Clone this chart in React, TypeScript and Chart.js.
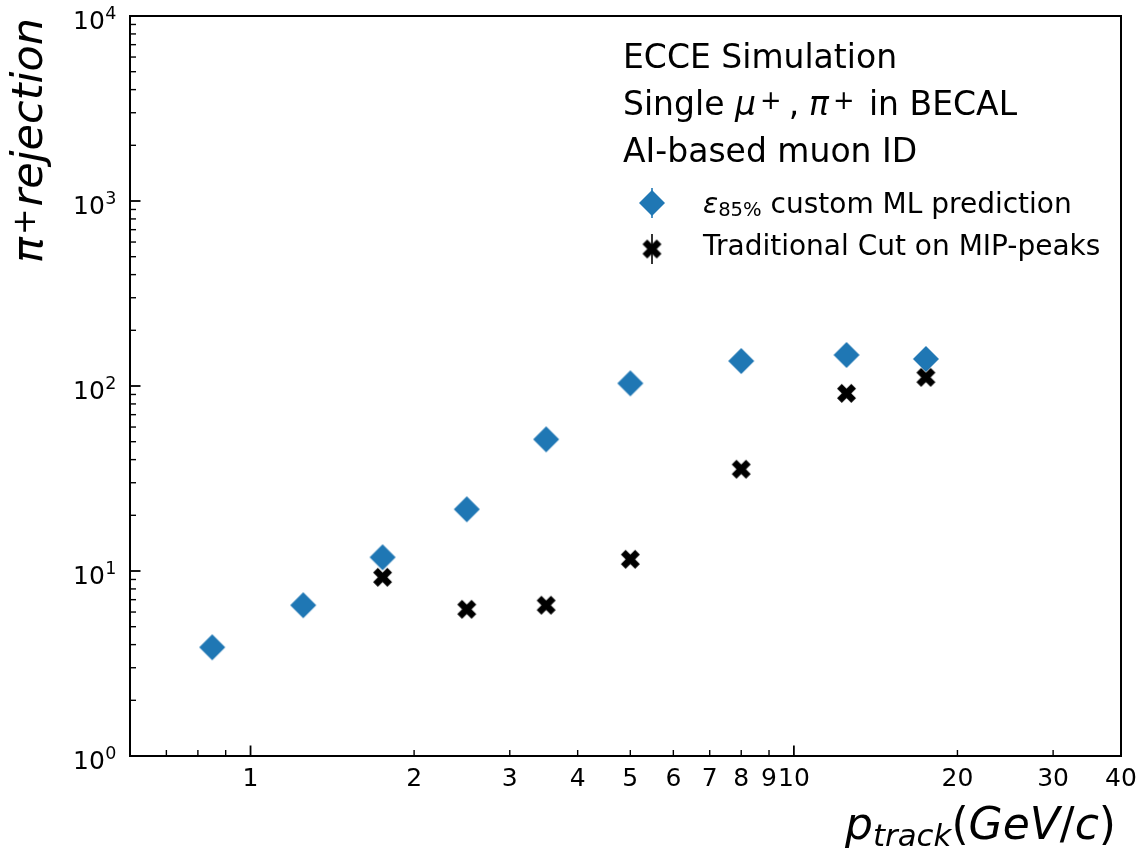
import { useEffect, useRef } from 'react';
import { Chart, registerables } from 'chart.js';

Chart.register(...registerables);

// Track momentum bin centres (GeV/c) and pion rejection factors
const mlMomentum = [0.85, 1.25, 1.75, 2.5, 3.5, 5, 8, 12.5, 17.5];
const mlRejection = [3.87, 6.53, 11.86, 21.55, 51.5, 103.4, 136.5, 147.1, 140];
const cutMomentum = [1.75, 2.5, 3.5, 5, 8, 12.5, 17.5];
const cutRejection = [9.25, 6.21, 6.53, 11.57, 35.5, 91.3, 111.4];

// Axis ticks
const xRange = [0.6, 40];
const yRange = [1, 10000];
const xMajorTicks = [1, 10];
const xMinorTicks = [0.7, 0.8, 0.9, 2, 3, 4, 5, 6, 7, 8, 9, 20, 30];
const xTickLabels = ['1', '2', '3', '4', '5', '6', '7', '8', '9', '10', '20', '30', '40'];
const yDecadeExponents = ['0', '1', '2', '3', '4'];
const yMinorSteps = [2, 3, 4, 5, 6, 7, 8, 9];

const infoLines = ['ECCE Simulation', 'Single', 'AI-based muon ID'];
const legendLabels = ['custom ML prediction', 'Traditional Cut on MIP-peaks'];

const BLUE = '#1f77b4';
const FAMILY = "'DejaVu Sans', sans-serif";

// A run of text: plain, italic, scaled (sub/superscript) or a blank gap in em
type Run = { t?: string; italic?: boolean; scale?: number; dy?: number; gap?: number };

function runFont(r: Run, size: number) {
  return `${r.italic ? 'italic ' : ''}${size * (r.scale ?? 1)}px ${FAMILY}`;
}

function runWidth(ctx: CanvasRenderingContext2D, r: Run, size: number) {
  if (r.gap !== undefined) return r.gap * size;
  ctx.font = runFont(r, size);
  return ctx.measureText(r.t ?? '').width;
}

function measureRuns(ctx: CanvasRenderingContext2D, runs: Run[], size: number) {
  return runs.reduce((w, r) => w + runWidth(ctx, r, size), 0);
}

function drawRuns(ctx: CanvasRenderingContext2D, runs: Run[], x: number, y: number, size: number) {
  ctx.textAlign = 'left';
  ctx.textBaseline = 'alphabetic';
  let cx = x;
  for (const r of runs) {
    const w = runWidth(ctx, r, size);
    if (r.t) {
      ctx.font = runFont(r, size);
      ctx.fillText(r.t, cx, y + (r.dy ?? 0) * size);
    }
    cx += w;
  }
}

function makeDiamond(half: number) {
  const c = document.createElement('canvas');
  const s = Math.ceil(half * 2 + 2);
  c.width = s;
  c.height = s;
  const g = c.getContext('2d')!;
  const m = s / 2;
  g.fillStyle = BLUE;
  g.beginPath();
  g.moveTo(m, m - half);
  g.lineTo(m + half, m);
  g.lineTo(m, m + half);
  g.lineTo(m - half, m);
  g.closePath();
  g.fill();
  return c;
}

function makeFilledX(half: number) {
  const c = document.createElement('canvas');
  const s = Math.ceil(half * 2 + 2);
  c.width = s;
  c.height = s;
  const g = c.getContext('2d')!;
  const m = s / 2;
  const plus = [[-1, -3], [1, -3], [1, -1], [3, -1], [3, 1], [1, 1], [1, 3], [-1, 3], [-1, 1], [-3, 1], [-3, -1], [-1, -1]];
  const u = half / (4 / Math.SQRT2);
  const k = Math.SQRT1_2;
  g.fillStyle = '#000';
  g.beginPath();
  plus.forEach(([px, py], i) => {
    const rx = (px - py) * k * u + m;
    const ry = (px + py) * k * u + m;
    if (i === 0) g.moveTo(rx, ry);
    else g.lineTo(rx, ry);
  });
  g.closePath();
  g.fill();
  return c;
}

export default function App() {
  const canvasRef = useRef<HTMLCanvasElement | null>(null);

  useEffect(() => {
    const canvas = canvasRef.current;
    if (!canvas) return;
    const diamond = makeDiamond(13);
    const cross = makeFilledX(9.5);

    const axesPlugin = {
      id: 'mplAxes',
      afterDraw(chart: Chart) {
        const ctx = chart.ctx;
        const a = chart.chartArea;
        const xs = chart.scales.x;
        const ys = chart.scales.y;
        ctx.save();
        ctx.fillStyle = '#000';
        ctx.strokeStyle = '#000';

        // frame
        ctx.lineWidth = 2;
        ctx.strokeRect(a.left, a.top, a.right - a.left, a.bottom - a.top);

        // inward ticks
        const tick = (x1: number, y1: number, x2: number, y2: number, w: number) => {
          ctx.lineWidth = w;
          ctx.beginPath();
          ctx.moveTo(x1, y1);
          ctx.lineTo(x2, y2);
          ctx.stroke();
        };
        xMajorTicks.forEach((v) => {
          const px = xs.getPixelForValue(v);
          tick(px, a.bottom, px, a.bottom - 10.5, 1.8);
        });
        xMinorTicks.forEach((v) => {
          const px = xs.getPixelForValue(v);
          tick(px, a.bottom, px, a.bottom - 6, 1.4);
        });
        yDecadeExponents.forEach((e) => {
          const base = Math.pow(10, Number(e));
          const py = ys.getPixelForValue(base);
          tick(a.left, py, a.left + 10.5, py, 1.8);
          if (Number(e) < 4) {
            yMinorSteps.forEach((m) => {
              const pm = ys.getPixelForValue(base * m);
              tick(a.left, pm, a.left + 6, pm, 1.4);
            });
          }
        });

        // x tick labels
        ctx.font = `25px ${FAMILY}`;
        ctx.textAlign = 'center';
        ctx.textBaseline = 'alphabetic';
        xTickLabels.forEach((t) => {
          ctx.fillText(t, xs.getPixelForValue(Number(t)), a.bottom + 30);
        });

        // y tick labels as powers of ten
        const labelRight = a.left - 13.5;
        yDecadeExponents.forEach((e) => {
          const py = ys.getPixelForValue(Math.pow(10, Number(e)));
          ctx.textAlign = 'left';
          ctx.font = `17.5px ${FAMILY}`;
          const ew = ctx.measureText(e).width;
          ctx.fillText(e, labelRight - ew, py + 3);
          ctx.font = `25px ${FAMILY}`;
          ctx.textAlign = 'right';
          ctx.fillText('10', labelRight - ew - 0.5, py + 13);
        });

        // x axis label, right aligned
        const xLabel: Run[] = [
          { t: 'p', italic: true },
          { t: 'track', italic: true, scale: 0.7, dy: 0.17 },
          { t: '(' },
          { t: 'GeV', italic: true },
          { t: '/' },
          { t: 'c', italic: true },
          { t: ')' },
        ];
        const xw = measureRuns(ctx, xLabel, 44);
        drawRuns(ctx, xLabel, a.right - 5 - xw, 839, 44);

        // y axis label, rotated, aligned to top
        const yLabel: Run[] = [
          { t: 'π', italic: true },
          { gap: 0.04 },
          { t: '+', scale: 0.75, dy: -0.17 },
          { gap: 0.04 },
          { t: 'rejection', italic: true },
        ];
        const yw = measureRuns(ctx, yLabel, 43);
        ctx.save();
        ctx.translate(42, a.top + 2);
        ctx.rotate(-Math.PI / 2);
        drawRuns(ctx, yLabel, -yw, 0, 43);
        ctx.restore();

        // annotation block
        const tx = 623;
        drawRuns(ctx, [{ t: infoLines[0] }], tx, 68, 33);
        drawRuns(
          ctx,
          [
            { t: infoLines[1] + ' ' },
            { t: 'μ', italic: true },
            { gap: 0.12 },
            { t: '+', scale: 0.78, dy: -0.17 },
            { gap: 0.22 },
            { t: ',' },
            { gap: 0.3 },
            { t: 'π', italic: true },
            { gap: 0.12 },
            { t: '+', scale: 0.78, dy: -0.17 },
            { gap: 0.12 },
            { t: ' in BECAL' },
          ],
          tx,
          115,
          33
        );
        drawRuns(ctx, [{ t: infoLines[2] }], tx, 162, 33);

        // legend
        const hx = 652;
        ctx.strokeStyle = BLUE;
        tick(hx, 188, hx, 218, 1.6);
        ctx.drawImage(diamond, hx - diamond.width / 2, 203 - diamond.height / 2);
        ctx.strokeStyle = '#000';
        tick(hx, 234, hx, 264, 1.6);
        ctx.drawImage(cross, hx - cross.width / 2, 249 - cross.height / 2);
        ctx.fillStyle = '#000';
        drawRuns(
          ctx,
          [
            { t: 'ε', italic: true },
            { t: '85%', scale: 0.7, dy: 0.13 },
            { t: ' ' + legendLabels[0] },
          ],
          703,
          212.5,
          28
        );
        drawRuns(ctx, [{ t: legendLabels[1] }], 703, 255, 28);

        ctx.restore();
      },
    };

    const chart = new Chart(canvas, {
      type: 'scatter',
      data: {
        datasets: [
          {
            label: legendLabels[1],
            data: cutMomentum.map((x, i) => ({ x, y: cutRejection[i] })),
            pointStyle: cross,
            pointRadius: 9,
            backgroundColor: '#000',
            borderColor: '#000',
          },
          {
            label: legendLabels[0],
            data: mlMomentum.map((x, i) => ({ x, y: mlRejection[i] })),
            pointStyle: diamond,
            pointRadius: 13,
            backgroundColor: BLUE,
            borderColor: BLUE,
          },
        ],
      },
      options: {
        responsive: false,
        animation: false,
        devicePixelRatio: 1,
        layout: { padding: { left: 130, top: 16, right: 17, bottom: 95 } },
        plugins: {
          legend: { display: false },
          tooltip: { enabled: false },
          title: { display: false },
        },
        scales: {
          x: { type: 'logarithmic', min: xRange[0], max: xRange[1], display: false },
          y: { type: 'logarithmic', min: yRange[0], max: yRange[1], display: false },
        },
      },
      plugins: [axesPlugin],
    });

    return () => chart.destroy();
  }, []);

  return (
    <div style={{ position: 'absolute', left: 0, top: 0, width: 1138, height: 851, background: '#fff' }}>
      <canvas ref={canvasRef} width={1138} height={851} style={{ display: 'block' }} />
    </div>
  );
}
